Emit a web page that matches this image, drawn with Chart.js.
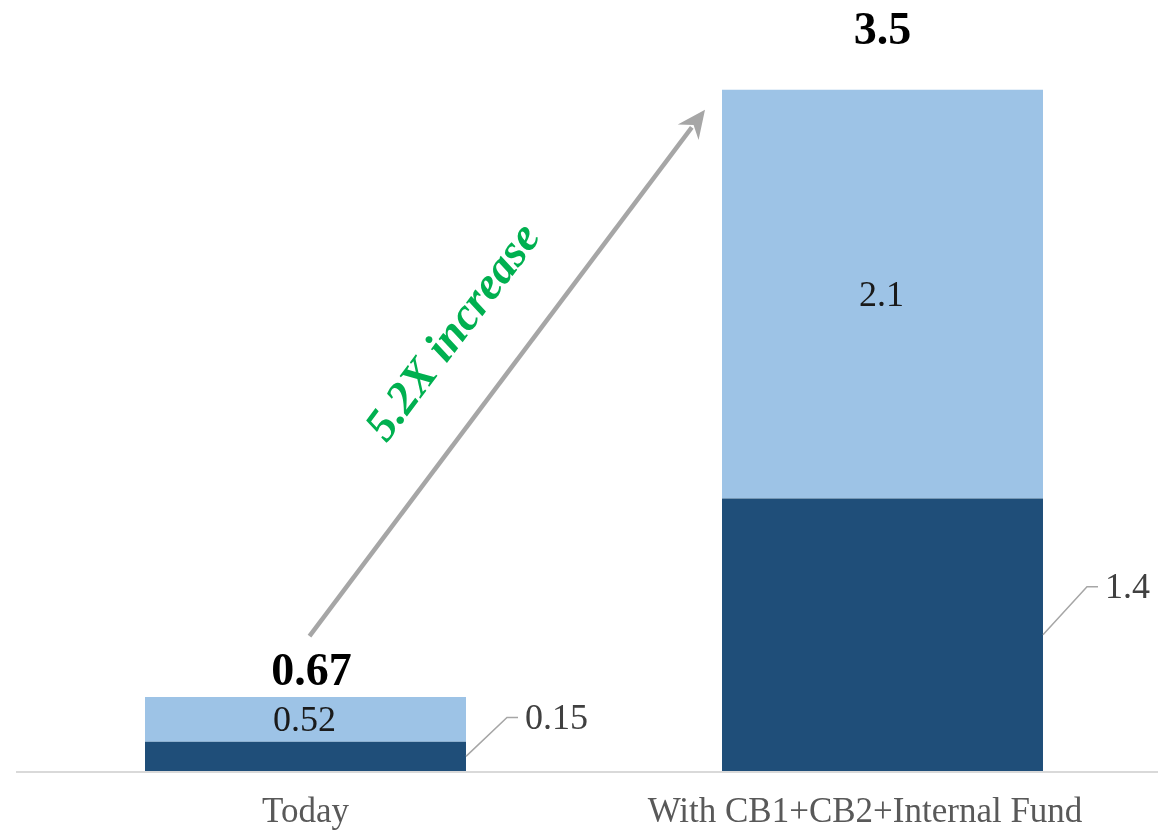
<!DOCTYPE html>
<html>
<head>
<meta charset="utf-8">
<title>Funding increase</title>
<script src="https://cdn.jsdelivr.net/npm/chart.js@4.4.1/dist/chart.umd.min.js"></script>
<style>
  html, body { margin: 0; padding: 0; background: #fff; overflow: hidden; }
  #wrap { position: relative; width: 1172px; height: 855px; }
</style>
</head>
<body>
<div id="wrap"><canvas id="chart" width="1172" height="855"></canvas></div>
<script>
// Chart data
const categories = ['Today', 'With CB1+CB2+Internal Fund'];
const baseValues = [0.15, 1.4];
// light segment heights as drawn in the picture (the Today segment is drawn short)
const addedValues = [0.23, 2.1];
const baseLabels = ['0.15', '1.4'];
const addedLabels = ['0.52', '2.1'];
const totalLabels = ['0.67', '3.5'];
const increaseLabel = '5.2X increase';

const FONT = '"Liberation Serif", "Times New Roman", serif';
const DARK = '#1f4e79';
const LIGHT = '#9dc3e6';

// Baseline, value labels, leader lines and the growth arrow
const annotations = {
  id: 'annotations',
  afterDatasetsDraw(chart) {
    const ctx = chart.ctx;
    const y0 = chart.scales.y.getPixelForValue(0);
    const baseBars = chart.getDatasetMeta(0).data;
    const addedBars = chart.getDatasetMeta(1).data;

    ctx.save();

    // axis line
    ctx.strokeStyle = '#d9d9d9';
    ctx.lineWidth = 2;
    ctx.beginPath();
    ctx.moveTo(chart.chartArea.left - 1, y0 + 1);
    ctx.lineTo(chart.width, y0 + 1);
    ctx.stroke();

    // labels of the dark segments, outside with a leader line
    const leaderRun = [41, 44];
    const leaderRise = [39, 48];
    baseBars.forEach((bar, i) => {
      const sx = bar.x + bar.width / 2;
      const sy = (bar.y + bar.base) / 2;
      const ex = sx + leaderRun[i];
      const ey = sy - leaderRise[i];
      ctx.strokeStyle = '#a6a6a6';
      ctx.lineWidth = 1.5;
      ctx.beginPath();
      ctx.moveTo(sx, sy);
      ctx.lineTo(ex, ey);
      ctx.lineTo(ex + 11, ey);
      ctx.stroke();
      ctx.fillStyle = '#404040';
      ctx.font = '36px ' + FONT;
      ctx.textAlign = 'left';
      ctx.textBaseline = 'middle';
      ctx.fillText(baseLabels[i], ex + 18, ey + 2);
    });

    // labels of the light segments, centred inside
    addedBars.forEach((bar, i) => {
      ctx.fillStyle = '#1a1a1a';
      ctx.font = '36px ' + FONT;
      ctx.textAlign = 'center';
      ctx.textBaseline = 'middle';
      ctx.fillText(addedLabels[i], bar.x - 1, (bar.y + bar.base) / 2 + 2);
    });

    // totals above the bars
    const totalOffsets = [24, 58];
    const totalShift = [6, 0];
    addedBars.forEach((bar, i) => {
      ctx.fillStyle = '#000';
      ctx.font = 'bold 46px ' + FONT;
      ctx.textAlign = 'center';
      ctx.textBaseline = 'middle';
      ctx.fillText(totalLabels[i], bar.x + totalShift[i], bar.y - totalOffsets[i]);
    });

    // growth arrow from the first bar to the second
    const a = addedBars[0];
    const b = addedBars[1];
    const sx = a.x + 4;
    const sy = a.y - 61;
    const tx = b.x - b.width / 2 - 17;
    const ty = b.y + 20;
    const ang = Math.atan2(ty - sy, tx - sx);
    const headLen = 28;
    const headHalf = 13;
    ctx.strokeStyle = '#a6a6a6';
    ctx.fillStyle = '#a6a6a6';
    ctx.lineWidth = 4.5;
    ctx.beginPath();
    ctx.moveTo(sx, sy);
    ctx.lineTo(tx - Math.cos(ang) * (headLen - 6), ty - Math.sin(ang) * (headLen - 6));
    ctx.stroke();
    ctx.beginPath();
    ctx.moveTo(tx, ty);
    const bx = tx - Math.cos(ang) * headLen;
    const by = ty - Math.sin(ang) * headLen;
    ctx.lineTo(bx + Math.sin(ang) * headHalf, by - Math.cos(ang) * headHalf);
    ctx.lineTo(tx - Math.cos(ang) * (headLen - 9), ty - Math.sin(ang) * (headLen - 9));
    ctx.lineTo(bx - Math.sin(ang) * headHalf, by + Math.cos(ang) * headHalf);
    ctx.closePath();
    ctx.fill();

    // rotated "5.2X increase" text alongside the arrow
    const mx = (sx + tx) / 2 + Math.sin(ang) * 66;
    const my = (sy + ty) / 2 - Math.cos(ang) * 66;
    ctx.translate(mx, my);
    ctx.rotate(ang);
    ctx.fillStyle = '#00b050';
    ctx.font = 'italic bold 46px ' + FONT;
    ctx.textAlign = 'center';
    ctx.textBaseline = 'middle';
    ctx.fillText(increaseLabel, 0, 0);

    ctx.restore();
  }
};

const ctx = document.getElementById('chart').getContext('2d');
new Chart(ctx, {
  type: 'bar',
  data: {
    labels: categories,
    datasets: [
      {
        label: 'Base',
        data: baseValues,
        backgroundColor: DARK,
        borderWidth: 0,
        barPercentage: 0.5563,
        categoryPercentage: 1
      },
      {
        label: 'Added',
        data: addedValues,
        backgroundColor: LIGHT,
        borderWidth: 0,
        barPercentage: 0.5563,
        categoryPercentage: 1
      }
    ]
  },
  options: {
    responsive: false,
    animation: false,
    layout: {
      padding: { left: 17, right: 1, top: 12, bottom: 0 }
    },
    plugins: {
      legend: { display: false },
      tooltip: { enabled: false }
    },
    scales: {
      x: {
        stacked: true,
        grid: { display: false, drawTicks: false },
        border: { display: false },
        ticks: {
          color: '#595959',
          padding: 21,
          font: { family: FONT, size: 35 },
          // the long label sits a little left of its bar, as in the picture
          callback: function(value, index) {
            const text = this.getLabelForValue(value);
            return index === categories.length - 1 ? text + '\u00a0\u00a0\u00a0\u00a0' : text;
          }
        }
      },
      y: {
        stacked: true,
        display: false,
        min: 0,
        max: 3.9
      }
    }
  },
  plugins: [annotations]
});
</script>
</body>
</html>
